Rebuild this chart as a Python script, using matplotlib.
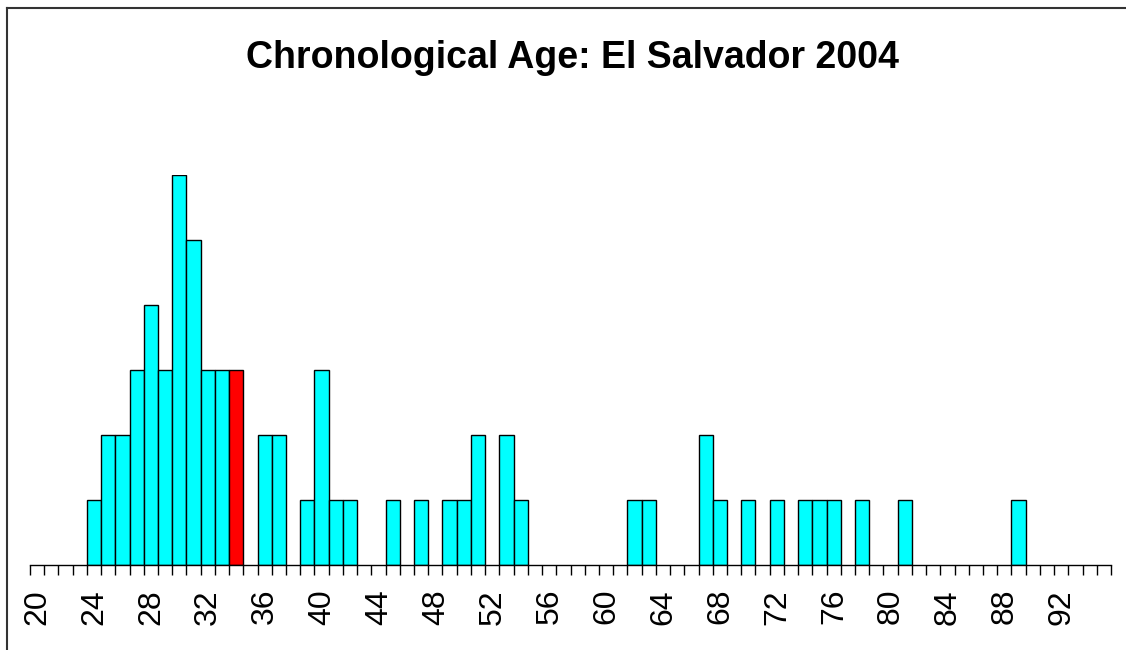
import matplotlib
matplotlib.use("Agg")
import matplotlib.pyplot as plt
from matplotlib.lines import Line2D
from matplotlib.transforms import ScaledTranslation

# Data: age (left edge of unit bin) and count
ages = [24, 25, 26, 27, 28, 29, 30, 31, 32, 33, 34, 36, 37, 39, 40, 41, 42,
        45, 47, 49, 50, 51, 53, 54, 62, 63, 67, 68, 70, 72, 74, 75, 76, 78, 81, 89]
counts = [1, 2, 2, 3, 4, 3, 6, 5, 3, 3, 3, 2, 2, 1, 3, 1, 1,
          1, 1, 1, 1, 2, 2, 1, 1, 1, 2, 1, 1, 1, 1, 1, 1, 1, 1, 1]
highlight_age = 34
tick_values = list(range(20, 97))
label_values = list(range(20, 93, 4))
title = "Chronological Age: El Salvador 2004"

W, H = 1126, 650
fig = plt.figure(figsize=(W / 100, H / 100), dpi=100)
plt.rcParams['font.family'] = ['Liberation Sans', 'DejaVu Sans']

x0, x1 = 30, 1111
ybase, ytop = 565, 175
ax = fig.add_axes([x0 / W, (H - ybase) / H, (x1 - x0) / W, (ybase - ytop) / H])
ax.set_xlim(20, 96)
ax.set_ylim(0, 6)

colors = ["#FF0000" if a == highlight_age else "#00FFFF" for a in ages]
ax.bar(ages, counts, width=1.0, align="edge", color=colors,
       edgecolor="black", linewidth=1.0, zorder=2)

for s in ["top", "right", "left"]:
    ax.spines[s].set_visible(False)
ax.spines["bottom"].set_linewidth(1.0)
ax.spines["bottom"].set_bounds(20, 96)
ax.set_yticks([])

ax.set_xticks(tick_values)
ax.set_xticklabels([str(v) if v in label_values else "" for v in tick_values],
                   rotation=90, fontsize=23)
ax.tick_params(axis="x", direction="out", length=7.2, width=1.0, pad=10)
offset = ScaledTranslation(7.5 / 100, 0, fig.dpi_scale_trans)
for lab in ax.get_xticklabels():
    lab.set_transform(lab.get_transform() + offset)

fig.text(572 / W, 1 - 58 / H, title, ha="center", va="center",
         fontsize=27, fontweight="bold")

# outer frame (partially cropped)
fig.add_artist(Line2D([7 / W, 7 / W], [0, 1 - 8 / H], color="#333333", lw=1.5,
                      transform=fig.transFigure))
fig.add_artist(Line2D([7 / W, 1], [1 - 8 / H, 1 - 8 / H], color="#333333", lw=1.5,
                      transform=fig.transFigure))

fig.savefig("out.png", dpi=100, facecolor="white")
